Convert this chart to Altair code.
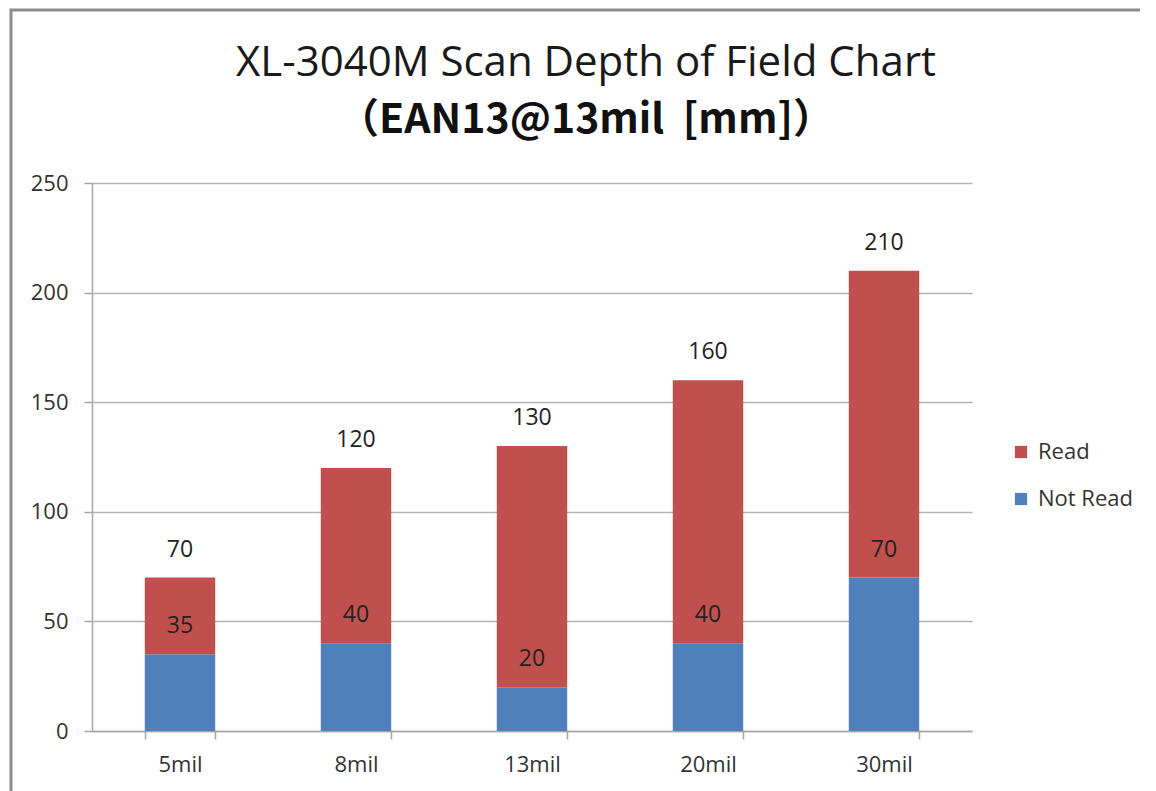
import altair as alt
import pandas as pd

categories = ["5mil", "8mil", "13mil", "20mil", "30mil"]
not_read = [35, 40, 20, 40, 70]
read_far = [70, 120, 130, 160, 210]
series_names = ["Read", "Not Read"]
series_colors = ["#C0504D", "#4F81BD"]
y_ticks = [0, 50, 100, 150, 200, 250]

rows = []
for c, n, f in zip(categories, not_read, read_far):
    rows.append({"cat": c, "series": "Not Read", "start": 0, "end": n, "label": n})
    rows.append({"cat": c, "series": "Read", "start": n, "end": f, "label": f})
df = pd.DataFrame(rows)

FONT = "Open Sans"
y_scale = alt.Scale(domain=[0, 250], nice=False, zero=True)

x_enc = alt.X("cat:N", sort=categories,
              scale=alt.Scale(paddingInner=0.6, paddingOuter=0.3),
              axis=alt.Axis(title=None, labelAngle=0, tickBand="extent", grid=False,
                            labelFontSize=22, labelPadding=15, tickSize=8,
                            labelFont=FONT, labelColor="#333333",
                            domainColor="#a6a6a6", tickColor="#a6a6a6",
                            domainWidth=1.5, tickWidth=1.5))

bars = alt.Chart(df).mark_bar().encode(
    x=x_enc,
    y=alt.Y("start:Q", scale=y_scale,
            axis=alt.Axis(title=None, values=y_ticks, labelFontSize=22, labelFont=FONT,
                          labelColor="#333333", labelPadding=16, tickSize=8,
                          gridColor="#b3b3b3", gridWidth=1.5,
                          domainColor="#a6a6a6", tickColor="#a6a6a6",
                          domainWidth=1.5, tickWidth=1.5)),
    y2="end:Q",
    color=alt.Color("series:N", scale=alt.Scale(domain=series_names, range=series_colors),
                    legend=alt.Legend(title=None, orient="none", legendX=918, legendY=258,
                                      symbolType="square", symbolSize=150,
                                      symbolStrokeWidth=0, labelFontSize=22,
                                      labelFont=FONT, labelColor="#333333",
                                      rowPadding=25, labelOffset=6)),
)

labels = alt.Chart(df).mark_text(fontSize=23, font=FONT, color="#222222",
                                 baseline="middle", dy=-28).encode(
    x=alt.X("cat:N", sort=categories),
    y=alt.Y("end:Q", scale=y_scale),
    text="label:Q",
)

frame_df = pd.DataFrame({"k": [0]})
frame = alt.Chart(frame_df).mark_rect(fill=None, stroke="#8c8c8c", strokeWidth=3).encode(
    x=alt.value(-81), x2=alt.value(1300), y=alt.value(-173), y2=alt.value(900)
)

chart = alt.layer(frame, bars, labels).properties(
    width=880, height=548,
    padding={"left": 84, "top": 175, "right": 168, "bottom": 60},
    autosize=alt.AutoSizeParams(type="none"),
    title=alt.TitleParams(
        text="XL-3040M Scan Depth of Field Chart",
        subtitle="（EAN13@13mil\u00a0\u00a0[mm]）",
        anchor="middle", frame="group", dx=54, offset=-133,
        font=FONT, fontSize=42, fontWeight="normal", color="#1a1a1a",
        subtitleFont="'Noto Sans CJK SC'", subtitleFontSize=41,
        subtitleFontWeight="bold", subtitleColor="#111111", subtitlePadding=16,
    ),
).configure_view(stroke=None)

chart.save("out.html", embed_options={"renderer": "svg", "actions": False})
